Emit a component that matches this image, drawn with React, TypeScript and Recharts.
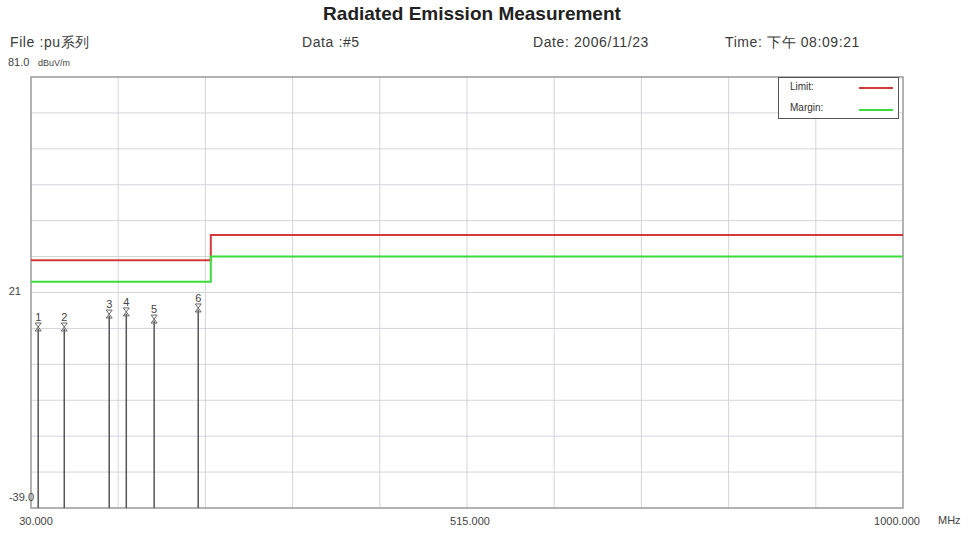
import React from "react";
import {
  ComposedChart,
  Line,
  Scatter,
  XAxis,
  YAxis,
  CartesianGrid,
  ReferenceLine,
  ReferenceArea,
} from "recharts";

const xTicks = [30, 127, 224, 321, 418, 515, 612, 709, 806, 903, 1000];
const xLabelTicks = [30, 515, 1000];
const yTicks = [-39, -29, -19, -9, 1, 11, 21, 31, 41, 51, 61, 71, 81];
const yLabelTicks = [21, -39];

const limitData = [
  { x: 30, y: 30 },
  { x: 230, y: 37 },
  { x: 1000, y: 37 },
];
const marginData = [
  { x: 30, y: 24 },
  { x: 230, y: 31 },
  { x: 1000, y: 31 },
];

const markerIds = [1, 2, 3, 4, 5, 6];
const markerFreqs = [38, 67, 117, 136, 167, 216];
const markerLevels = [11.4, 11.4, 15.0, 15.6, 13.6, 16.7];

const markers = markerIds.map((id, i) => ({ id, x: markerFreqs[i], y: markerLevels[i] }));

const FONT = '"Liberation Sans", Arial, sans-serif';

const MarkerShape = (props: any) => {
  const { cx, cy, payload } = props;
  if (cx == null || cy == null) return null;
  return (
    <g>
      <text x={cx} y={cy - 6} textAnchor="middle" fontSize={11} fill="#444" fontFamily={FONT}>
        {payload.id}
      </text>
      <path
        d={`M${cx - 3},${cy - 4} L${cx + 3},${cy - 4} L${cx - 3},${cy + 4} L${cx + 3},${cy + 4} Z`}
        fill="none"
        stroke="#666"
        strokeWidth={1}
      />
    </g>
  );
};

const XTick = (props: any) => {
  const { x, y, payload } = props;
  const idx = xLabelTicks.indexOf(payload.value);
  if (idx < 0) return null;
  const dx = [5, 3, -6][idx];
  return (
    <text x={x + dx} y={y + 17} textAnchor="middle" fontSize={11} fill="#444" fontFamily={FONT}>
      {Number(payload.value).toFixed(3)}
    </text>
  );
};

const YTick = (props: any) => {
  const { x, y, payload } = props;
  if (!yLabelTicks.includes(payload.value)) return null;
  const isMin = payload.value === -39;
  const label = isMin ? "-39.0" : String(payload.value);
  return (
    <text
      x={isMin ? x + 3 : x - 10}
      y={isMin ? y - 7 : y + 2}
      textAnchor="end"
      fontSize={11}
      fill="#444"
      fontFamily={FONT}
    >
      {label}
    </text>
  );
};

const headerStyle: React.CSSProperties = {
  position: "absolute",
  top: 34,
  fontSize: 14,
  letterSpacing: 0.6,
  color: "#3a3a3a",
};

export default function App() {
  return (
    <div
      style={{
        position: "absolute",
        left: 0,
        top: 0,
        width: 968,
        height: 535,
        background: "#fff",
        fontFamily: FONT,
        color: "#333",
      }}
    >
      <div
        style={{
          position: "absolute",
          left: 0,
          width: 944,
          top: 3,
          textAlign: "center",
          fontWeight: "bold",
          fontSize: 19,
          color: "#222",
        }}
      >
        Radiated Emission Measurement
      </div>
      <div style={{ ...headerStyle, left: 10 }}>File :pu系列</div>
      <div style={{ ...headerStyle, left: 302 }}>Data :#5</div>
      <div style={{ ...headerStyle, left: 533 }}>Date: 2006/11/23</div>
      <div style={{ ...headerStyle, left: 725 }}>Time: 下午 08:09:21</div>
      <div style={{ position: "absolute", top: 56, left: 8, fontSize: 11, color: "#444" }}>81.0</div>
      <div style={{ position: "absolute", top: 58, left: 38, fontSize: 9, color: "#444" }}>dBuV/m</div>
      <div style={{ position: "absolute", top: 514, left: 938, fontSize: 11, color: "#444" }}>MHz</div>

      <div style={{ position: "absolute", left: 0, top: 0 }}>
        <ComposedChart
          width={968}
          height={535}
          margin={{ top: 77, right: 65, bottom: 0, left: 0 }}
        >
          <CartesianGrid
            stroke="#d4d4dc"
            strokeWidth={1}
            horizontalValues={yTicks}
            verticalValues={xTicks}
          />
          <XAxis
            type="number"
            dataKey="x"
            domain={[30, 1000]}
            ticks={xTicks}
            interval={0}
            axisLine={false}
            tickLine={false}
            tickSize={0}
            tickMargin={0}
            height={27}
            tick={<XTick />}
            allowDataOverflow
          />
          <YAxis
            type="number"
            dataKey="y"
            domain={[-39, 81]}
            ticks={yTicks}
            interval={0}
            axisLine={false}
            tickLine={false}
            tickSize={0}
            tickMargin={0}
            width={31}
            tick={<YTick />}
            allowDataOverflow
          />
          <ReferenceArea
            x1={30}
            x2={1000}
            y1={-39}
            y2={81}
            fill="none"
            stroke="#a0a0a0"
            strokeWidth={1.5}
            ifOverflow="visible"
          />
          {markers.map((m) => (
            <ReferenceLine
              key={m.id}
              segment={[
                { x: m.x, y: -39 },
                { x: m.x, y: m.y - 0.5 },
              ]}
              stroke="#555"
              strokeWidth={1.5}
              ifOverflow="visible"
            />
          ))}
          <Line
            data={limitData}
            dataKey="y"
            type="stepAfter"
            stroke="#d43a3a"
            strokeWidth={2}
            dot={false}
            isAnimationActive={false}
          />
          <Line
            data={marginData}
            dataKey="y"
            type="stepAfter"
            stroke="#3ddc3d"
            strokeWidth={2}
            dot={false}
            isAnimationActive={false}
          />
          <Scatter
            data={markers}
            dataKey="y"
            shape={<MarkerShape />}
            isAnimationActive={false}
          />
        </ComposedChart>
      </div>

      <div
        style={{
          position: "absolute",
          left: 778,
          top: 77,
          width: 119,
          height: 40,
          border: "1px solid #555",
          background: "#fff",
          fontSize: 10,
          color: "#333",
        }}
      >
        <div style={{ position: "absolute", left: 11, top: 3 }}>Limit:</div>
        <div style={{ position: "absolute", left: 80, top: 9, width: 34, height: 2, background: "#d43a3a" }} />
        <div style={{ position: "absolute", left: 11, top: 24 }}>Margin:</div>
        <div style={{ position: "absolute", left: 80, top: 31, width: 34, height: 2, background: "#3ddc3d" }} />
      </div>
    </div>
  );
}
